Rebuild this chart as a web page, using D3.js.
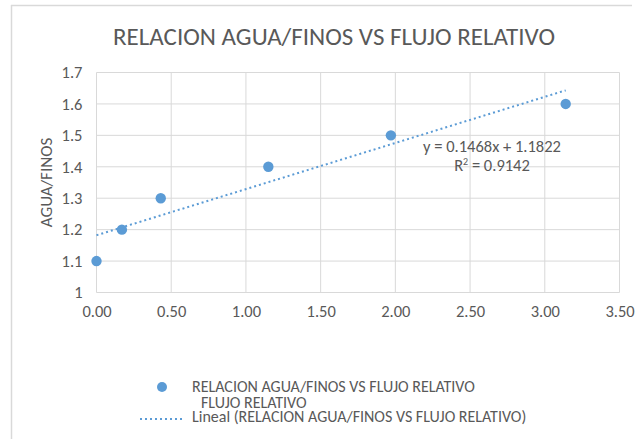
<!DOCTYPE html>
<html>
<head>
<meta charset="utf-8">
<script src="https://cdn.jsdelivr.net/npm/d3@7"></script>
<style>
  html, body { margin: 0; padding: 0; background: #fff; }
  svg text { font-family: Calibri, Carlito, "Open Sans", "Liberation Sans", sans-serif; }
</style>
</head>
<body>
<svg id="chart" width="641" height="439"></svg>
<script>
// Measured flow vs. water/fines ratio
const flujoRelativo = [0.00, 0.17, 0.43, 1.15, 1.97, 3.14];
const aguaFinos = [1.1, 1.2, 1.3, 1.4, 1.5, 1.6];
const xTicks = [0, 0.5, 1, 1.5, 2, 2.5, 3, 3.5];
const yTicks = [1, 1.1, 1.2, 1.3, 1.4, 1.5, 1.6, 1.7];
const trendSlope = 0.1468;
const trendIntercept = 1.1822;
const trendR2 = 0.9142;

const svg = d3.select("#chart");
const gray = "#595959";
const grid = "#d9d9d9";
const blue = "#5b9bd5";

// chart frame (top and left edges visible)
svg.append("line").attr("x1", 11).attr("x2", 632).attr("y1", 5.5).attr("y2", 5.5)
  .attr("stroke", "#d9d9d9").attr("stroke-width", 1.5);
svg.append("line").attr("x1", 11.5).attr("x2", 11.5).attr("y1", 5).attr("y2", 439)
  .attr("stroke", "#d9d9d9").attr("stroke-width", 1.5);

const x = d3.scaleLinear().domain([0, 3.5]).range([96.5, 619.5]);
const y = d3.scaleLinear().domain([1, 1.7]).range([292.5, 72.5]);

// title
svg.append("text").attr("x", 334).attr("y", 45).attr("text-anchor", "middle")
  .attr("font-size", 25).attr("fill", gray)
  .text("RELACION AGUA/FINOS VS FLUJO RELATIVO");

// gridlines
svg.append("g").selectAll("line").data(yTicks).join("line")
  .attr("x1", x(0)).attr("x2", x(3.5))
  .attr("y1", d => y(d)).attr("y2", d => y(d))
  .attr("stroke", grid).attr("stroke-width", 1);
svg.append("g").selectAll("line").data(xTicks).join("line")
  .attr("x1", d => x(d)).attr("x2", d => x(d))
  .attr("y1", y(1)).attr("y2", y(1.7))
  .attr("stroke", grid).attr("stroke-width", 1);

// axes
const yAxis = d3.axisLeft(y).tickValues(yTicks).tickSize(0).tickPadding(14)
  .tickFormat(d => d === 1 ? "1" : d3.format(".1f")(d));
const gy = svg.append("g").attr("transform", `translate(${x(0)},0)`).call(yAxis);
gy.select(".domain").remove();
gy.selectAll("text").attr("font-size", 16.5).attr("fill", gray);

const xAxis = d3.axisBottom(x).tickValues(xTicks).tickSize(0).tickPadding(13)
  .tickFormat(d3.format(".2f"));
const gx = svg.append("g").attr("transform", `translate(0,${y(1)})`).call(xAxis);
gx.select(".domain").remove();
gx.selectAll("text").attr("font-size", 16.5).attr("fill", gray);

// y axis title
svg.append("text").attr("transform", `translate(52,${y(1.35)}) rotate(-90)`)
  .attr("text-anchor", "middle").attr("font-size", 17).attr("fill", gray)
  .text("AGUA/FINOS");

// linear trendline over the data range
const xExt = d3.extent(flujoRelativo);
svg.append("line")
  .attr("x1", x(xExt[0])).attr("y1", y(trendIntercept + trendSlope * xExt[0]))
  .attr("x2", x(xExt[1])).attr("y2", y(trendIntercept + trendSlope * xExt[1]))
  .attr("stroke", blue).attr("stroke-width", 2).attr("stroke-dasharray", "2,3");

// data points
svg.append("g").selectAll("circle").data(flujoRelativo).join("circle")
  .attr("cx", d => x(d)).attr("cy", (d, i) => y(aguaFinos[i]))
  .attr("r", 5.2).attr("fill", blue);

// trendline equation
svg.append("text").attr("x", 492).attr("y", 152).attr("text-anchor", "middle")
  .attr("font-size", 16.5).attr("fill", gray)
  .text(`y = ${trendSlope}x + ${trendIntercept}`);
const r2 = svg.append("text").attr("x", 492).attr("y", 171).attr("text-anchor", "middle")
  .attr("font-size", 16.5).attr("fill", gray);
r2.append("tspan").text("R");
r2.append("tspan").attr("font-size", 10).attr("dy", -6).text("2");
r2.append("tspan").attr("dy", 6).text(` = ${trendR2}`);

// legend
svg.append("circle").attr("cx", 162).attr("cy", 387).attr("r", 5).attr("fill", blue);
svg.append("text").attr("x", 192).attr("y", 392).attr("font-size", 16).attr("fill", gray)
  .text("RELACION AGUA/FINOS VS FLUJO RELATIVO");
svg.append("text").attr("x", 201).attr("y", 408).attr("font-size", 16).attr("fill", gray)
  .text("FLUJO RELATIVO");
svg.append("line").attr("x1", 140).attr("x2", 184).attr("y1", 419).attr("y2", 419)
  .attr("stroke", blue).attr("stroke-width", 2).attr("stroke-dasharray", "2,3");
svg.append("text").attr("x", 192).attr("y", 422).attr("font-size", 16).attr("fill", gray)
  .text("Lineal (RELACION AGUA/FINOS VS FLUJO RELATIVO)");
</script>
</body>
</html>
